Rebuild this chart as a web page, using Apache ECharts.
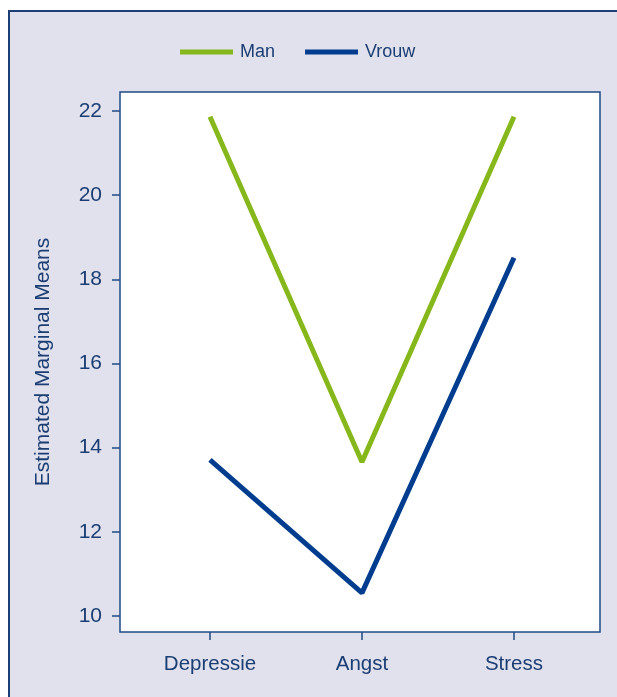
<!DOCTYPE html>
<html><head><meta charset="utf-8">
<script src="https://cdn.jsdelivr.net/npm/echarts@6/dist/echarts.min.js"></script>
<style>
html,body{margin:0;padding:0;background:#fff;}
#frame{position:absolute;left:8px;top:10px;width:609px;height:687px;background:#e0e1ec;border-top:2px solid #1d3f73;border-left:2px solid #1d3f73;box-sizing:border-box;}
#c{position:absolute;left:0;top:0;width:617px;height:697px;}
</style></head>
<body>
<div id="frame"></div>
<div id="c"></div>
<script>
const categories = ['Depressie', 'Angst', 'Stress'];
const seriesNames = ['Man', 'Vrouw'];
const manValues = [21.86, 13.66, 21.86];
const vrouwValues = [13.71, 10.55, 18.51];
const yTicks = [10, 12, 14, 16, 18, 20, 22];
const xPositions = [1, 2, 3];

const textColor = '#1a3d73';
const font = 'Liberation Sans, Arial, sans-serif';
const chart = echarts.init(document.getElementById('c'));
chart.setOption({
  backgroundColor: 'transparent',
  animation: false,
  legend: {
    top: 38, left: 175, itemGap: 30,
    itemWidth: 53, itemHeight: 5,
    icon: 'rect',
    textStyle: {color: textColor, fontSize: 18, fontFamily: font, padding: [0, 0, 0, 2]},
    data: seriesNames
  },
  grid: {
    left: 120, right: 17, top: 92, bottom: 65,
    show: true, backgroundColor: '#fff', borderColor: '#1f4a85', borderWidth: 1.5
  },
  xAxis: {
    type: 'value', min: 0.408, max: 3.566,
    splitLine: {show: false},
    axisLine: {show: false},
    axisTick: {show: true, customValues: xPositions, length: 8, lineStyle: {color: '#1f4a85', width: 1.5}},
    axisLabel: {customValues: xPositions, margin: 22, color: textColor, fontSize: 20.5, fontFamily: font,
      formatter: v => categories[Math.round(v) - 1] || ''}
  },
  yAxis: {
    type: 'value', min: 9.62, max: 22.45,
    name: 'Estimated Marginal Means', nameLocation: 'middle', nameGap: 66, nameRotate: 90,
    nameTextStyle: {color: textColor, fontSize: 21, fontFamily: font},
    splitLine: {show: false},
    axisLine: {show: false},
    axisTick: {show: true, customValues: yTicks, length: 8, lineStyle: {color: '#1f4a85', width: 1.5}},
    axisLabel: {customValues: yTicks, margin: 18, color: textColor, fontSize: 21, fontFamily: font}
  },
  series: [
    {name: seriesNames[0], type: 'line', data: xPositions.map((x, i) => [x, manValues[i]]),
      showSymbol: false, lineStyle: {color: '#86b81c', width: 5}, itemStyle: {color: '#86b81c'}},
    {name: seriesNames[1], type: 'line', data: xPositions.map((x, i) => [x, vrouwValues[i]]),
      showSymbol: false, lineStyle: {color: '#003d8f', width: 5}, itemStyle: {color: '#003d8f'}}
  ]
});
</script>
</body></html>
